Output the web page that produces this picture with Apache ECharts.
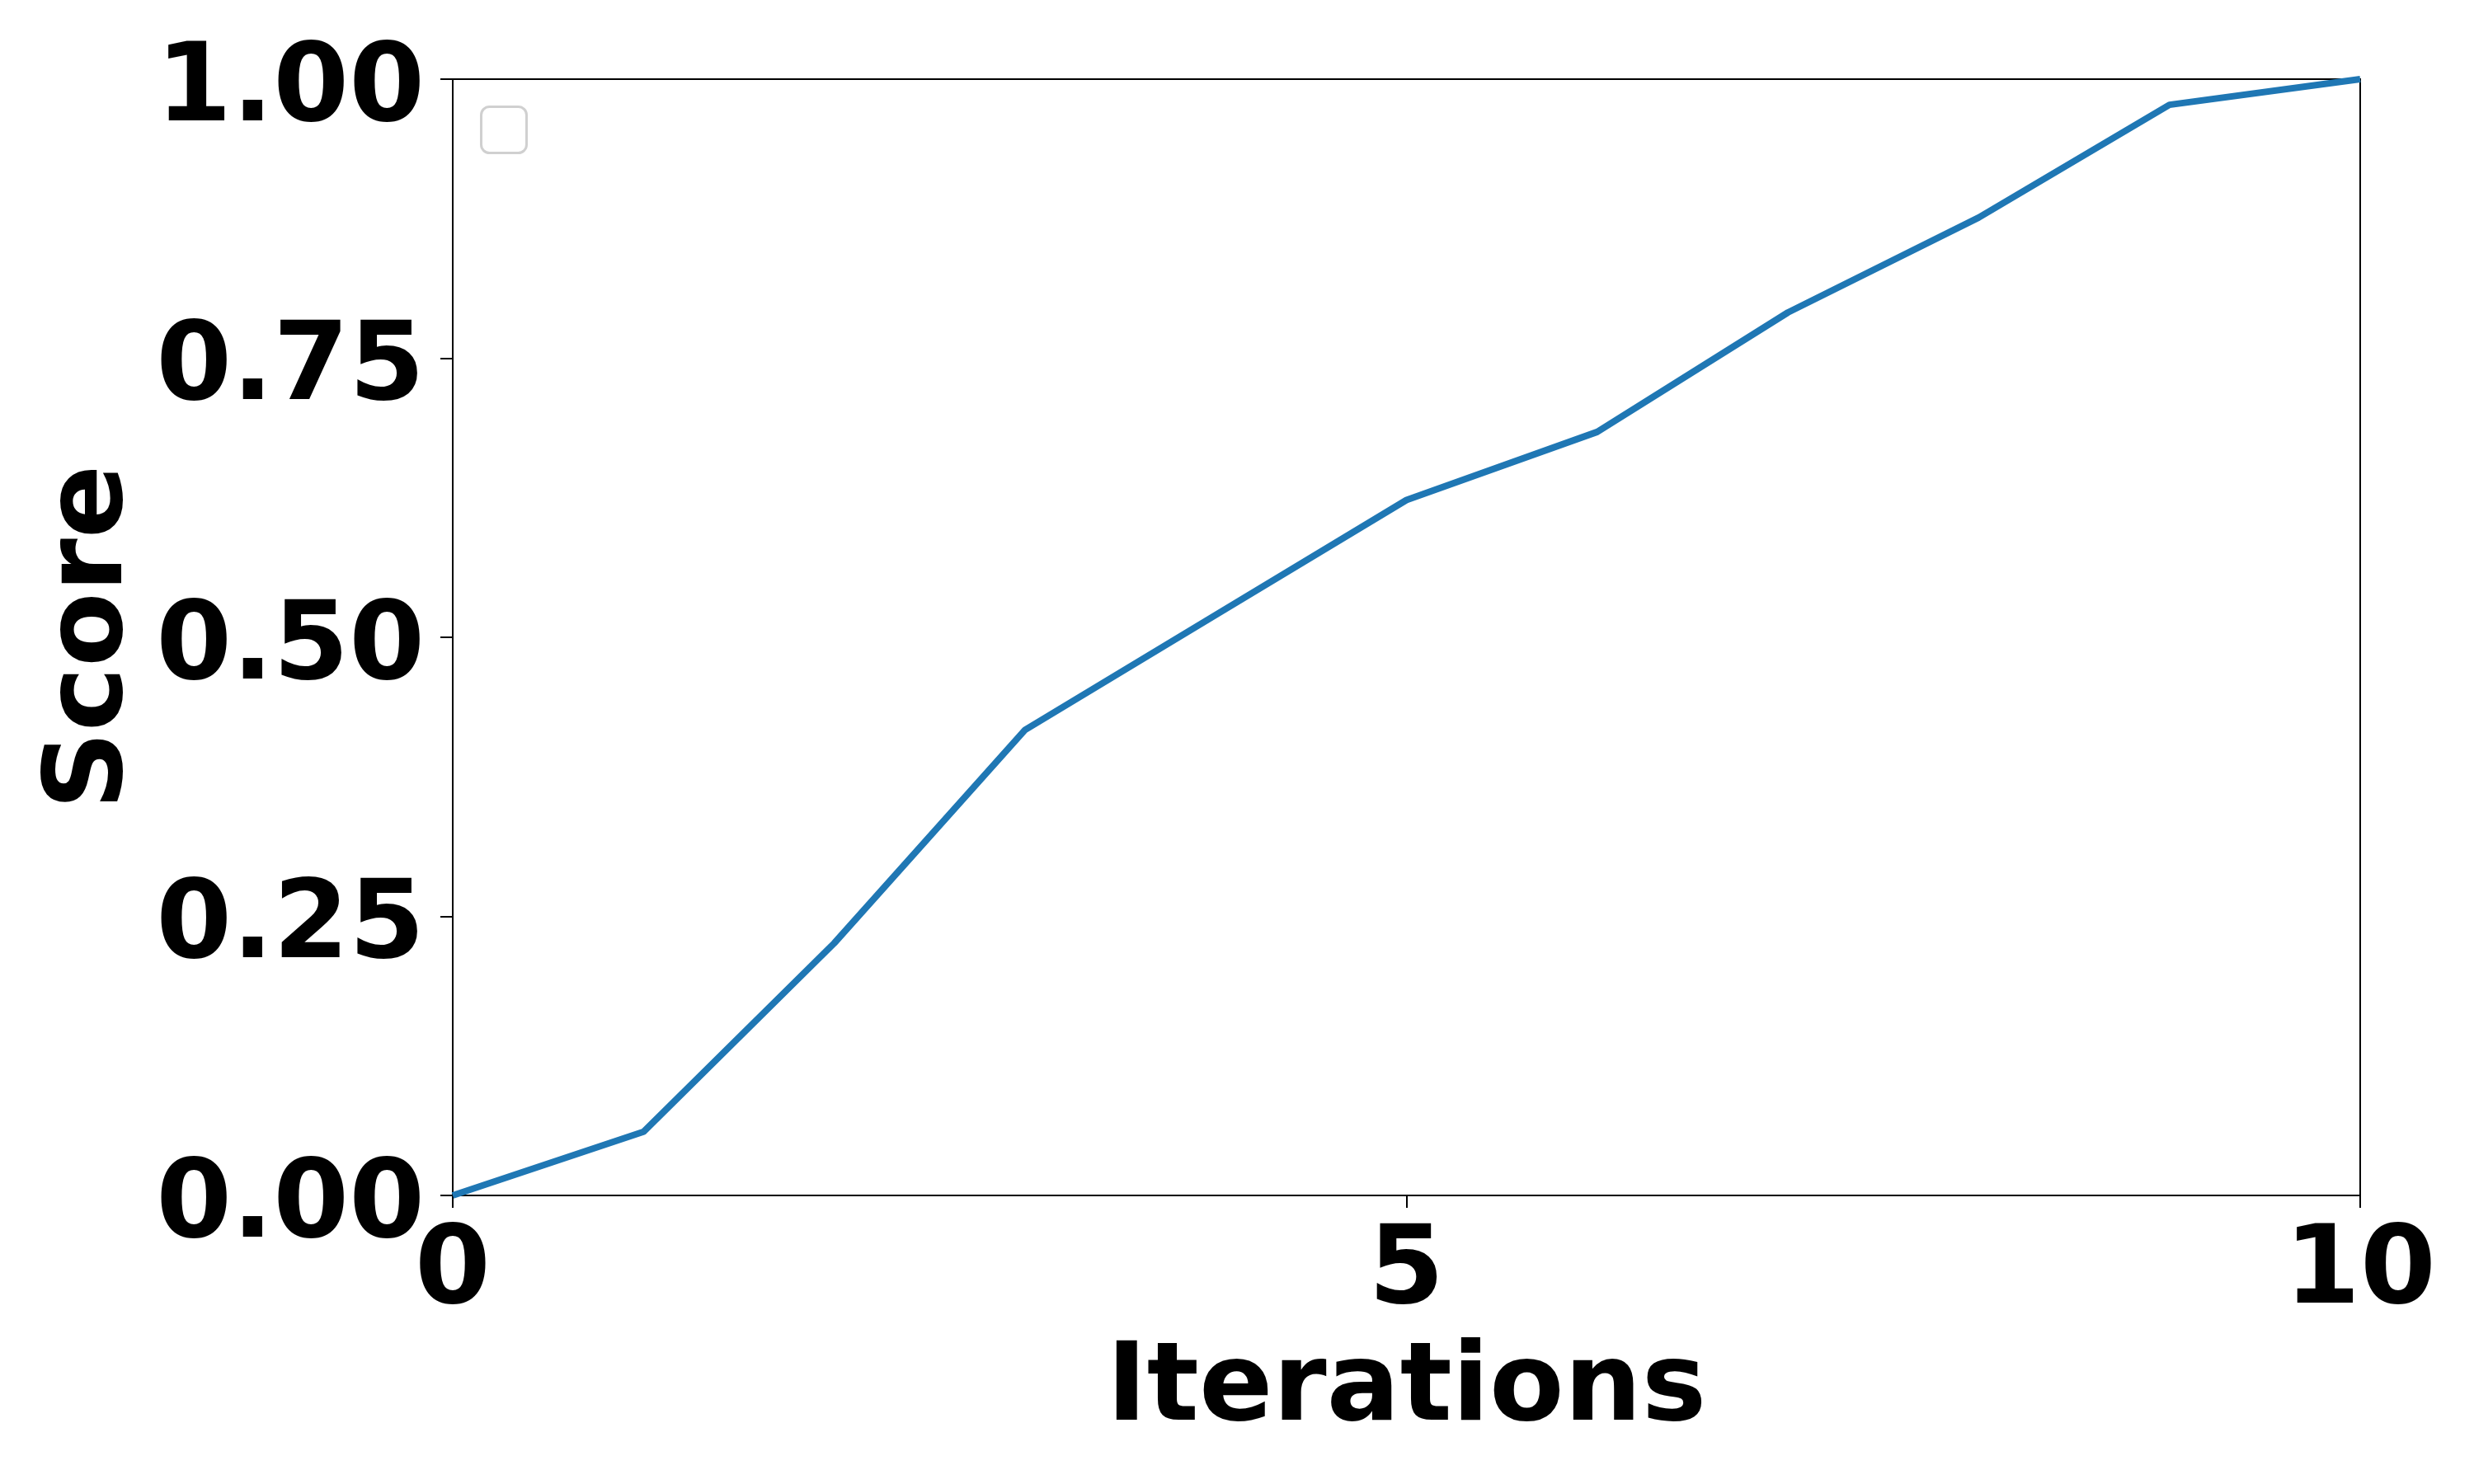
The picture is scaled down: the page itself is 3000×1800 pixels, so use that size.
<!DOCTYPE html>
<html>
<head>
<meta charset="utf-8">
<title>Score vs Iterations</title>
<script src="https://cdn.jsdelivr.net/npm/echarts@6/dist/echarts.min.js"></script>
<style>
  html, body { margin: 0; padding: 0; background: #fff; }
  #chart { width: 3000px; height: 1800px; }
</style>
</head>
<body>
<div id="chart"></div>
<script>
// data
var iterations = [0, 1, 2, 3, 4, 5, 6, 7, 8, 9, 10];
var scores = [0, 0.057, 0.226, 0.417, 0.52, 0.623, 0.684, 0.791, 0.876, 0.977, 1.0];
var xTicks = [0, 5, 10];
var yTicks = [0, 0.25, 0.5, 0.75, 1.0];

var font = "DejaVu Sans";
var fs = 132;
var chart = echarts.init(document.getElementById("chart"));

var option = {
  backgroundColor: "#fff",
  animation: false,
  grid: {
    left: 549,
    right: 138,
    top: 96,
    bottom: 350,
    show: true,
    borderColor: "#000",
    borderWidth: 2
  },
  xAxis: {
    type: "value",
    min: xTicks[0],
    max: xTicks[xTicks.length - 1],
    interval: xTicks[1] - xTicks[0],
    name: "Iterations",
    nameLocation: "middle",
    nameGap: 172,
    nameTextStyle: { fontFamily: font, fontWeight: "bold", fontSize: fs, color: "#000" },
    axisLine: { show: true, lineStyle: { color: "#000", width: 2 } },
    axisTick: { show: true, length: 15, lineStyle: { color: "#000", width: 2 } },
    axisLabel: { margin: 30, fontFamily: font, fontWeight: "bold", fontSize: fs, color: "#000" },
    splitLine: { show: false }
  },
  yAxis: {
    type: "value",
    min: yTicks[0],
    max: yTicks[yTicks.length - 1],
    interval: yTicks[1] - yTicks[0],
    name: "Score",
    nameLocation: "middle",
    nameGap: 342,
    nameRotate: 90,
    nameTextStyle: { fontFamily: font, fontWeight: "bold", fontSize: fs, color: "#000" },
    axisLine: { show: true, lineStyle: { color: "#000", width: 2 } },
    axisTick: { show: true, length: 15, lineStyle: { color: "#000", width: 2 } },
    axisLabel: {
      margin: 34,
      verticalAlign: "top",
      lineHeight: 31,
      fontFamily: font, fontWeight: "bold", fontSize: fs, color: "#000",
      formatter: function (v) { return v.toFixed(2); }
    },
    splitLine: { show: false }
  },
  // empty legend frame, like the original
  graphic: [{
    type: "rect",
    left: 582,
    top: 128,
    shape: { width: 55, height: 56, r: 10 },
    style: { fill: "#fff", stroke: "#d0d0d0", lineWidth: 3 }
  }],
  series: [{
    type: "line",
    data: iterations.map(function (x, i) { return [x, scores[i]]; }),
    showSymbol: false,
    clip: false,
    lineStyle: { color: "#1f77b4", width: 8 },
    itemStyle: { color: "#1f77b4" }
  }]
};

chart.setOption(option);
</script>
</body>
</html>
